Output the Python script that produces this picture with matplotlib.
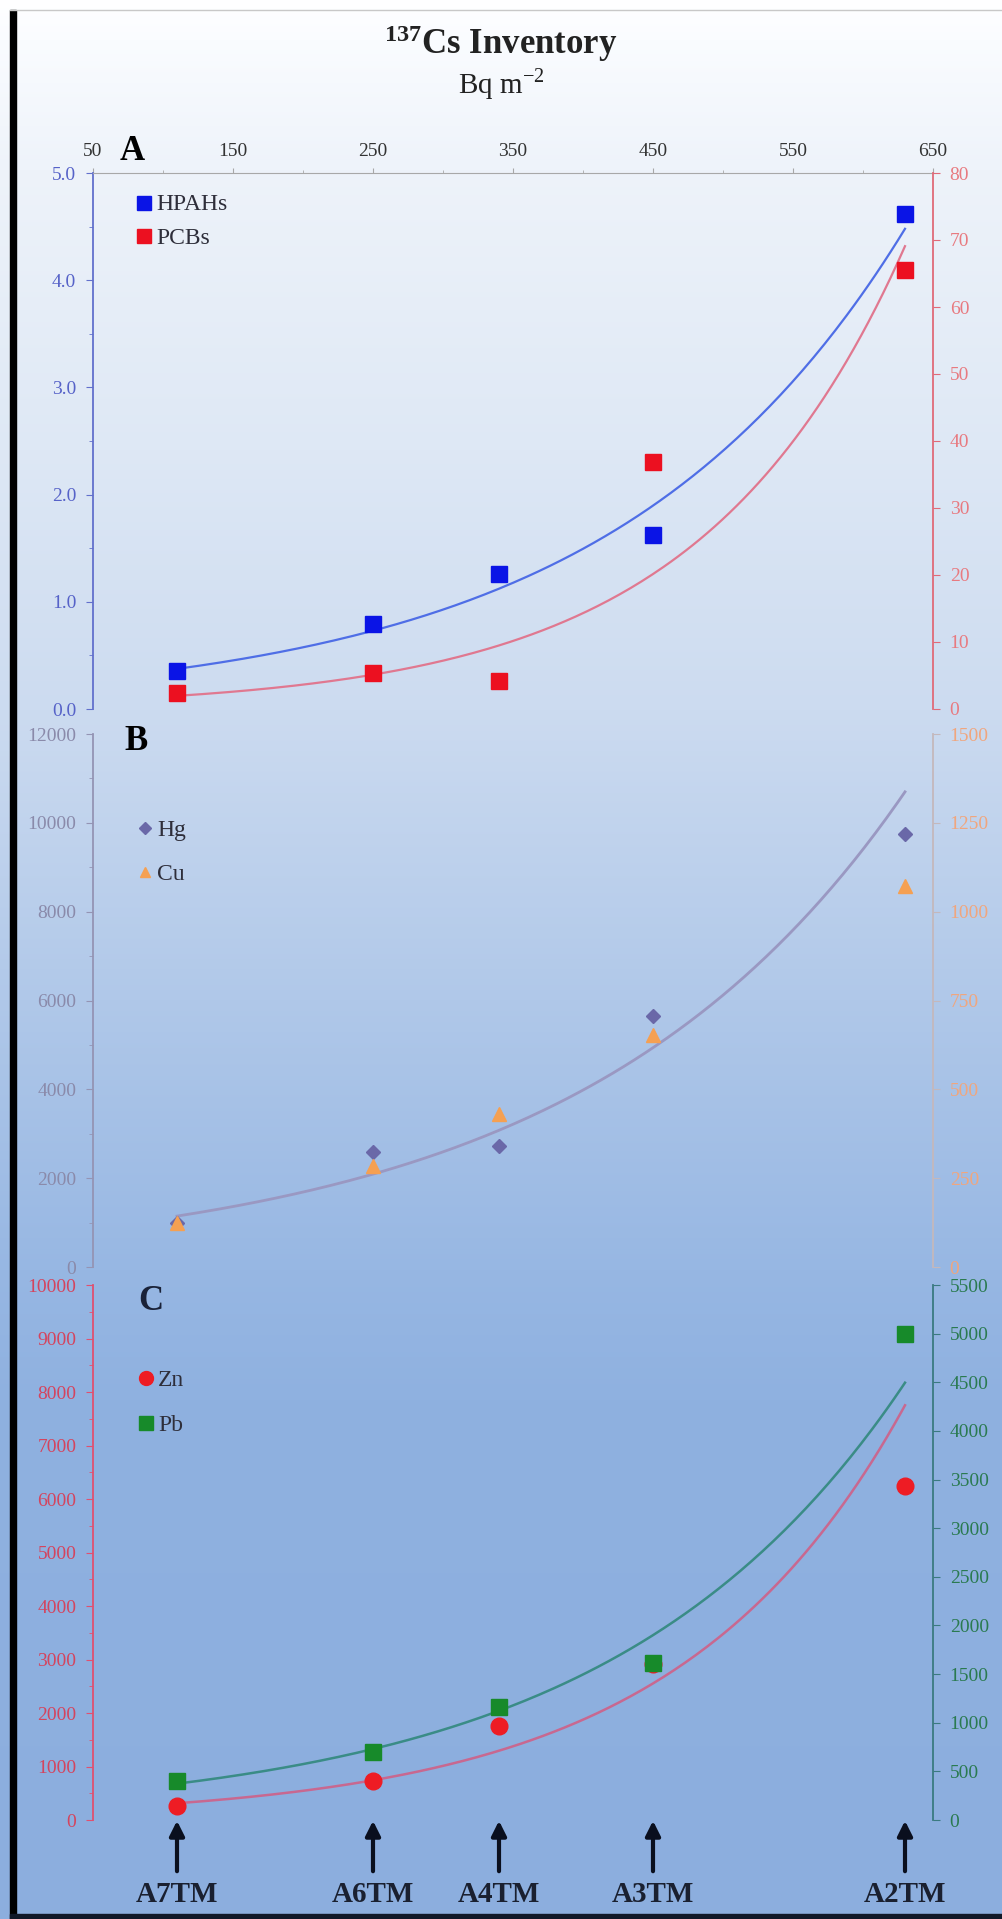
import numpy as np
import matplotlib.pyplot as plt
from matplotlib.lines import Line2D
from matplotlib.patches import Rectangle

# 137Cs inventory (Bq m-2) of each core
cores = ['A7TM', 'A6TM', 'A4TM', 'A3TM', 'A2TM']
cs137 = [110, 250, 340, 450, 630]

# panel A
hpahs = [0.35, 0.79, 1.26, 1.62, 4.62]
pcbs = [2.4, 5.4, 4.25, 36.8, 65.5]

# panel B
hg = [1000, 2590, 2730, 5650, 9750]
cu = [124, 284, 430, 652, 1073]

# panel C
zn = [256, 729, 1751, 2925, 6237]
pb = [401, 700, 1158, 1609, 5000]

W, H = 1002, 1919
plt.rcParams['font.family'] = 'Liberation Serif'
plt.rcParams['mathtext.fontset'] = 'custom'
plt.rcParams['mathtext.rm'] = 'Liberation Serif'
plt.rcParams['mathtext.bf'] = 'Liberation Serif:bold'

fig = plt.figure(figsize=(W / 100, H / 100), dpi=100)


# axes box from pixel edges (origin top left)
def px_box(left, top, right, bottom):
  return [left / W, 1 - bottom / H, (right - left) / W, (bottom - top) / H]


# exponential trend line, same as excel (least squares on log y)
def exp_fit(x, y):
  b, ln_a = np.polyfit(x, np.log(y), 1)
  xs = np.linspace(min(x), max(x), 200)
  return xs, np.exp(ln_a + b * xs)


# background gradient
bg = fig.add_axes([0, 0, 1, 1], zorder=-10)
stops_y = [0, 40, 170, 450, 710, 1000, 1270, 1400, 1919]
stops_c = [(255, 255, 255), (250, 252, 255), (238, 243, 250), (222, 232, 245),
           (204, 219, 240), (176, 200, 233), (151, 183, 227), (143, 177, 224),
           (140, 174, 222)]
rows = np.arange(H)
grad = np.zeros((H, 1, 3))
for i in range(3):
  grad[:, 0, i] = np.interp(rows, stops_y, [c[i] for c in stops_c]) / 255
bg.imshow(grad, aspect='auto', extent=[0, 1, 0, 1])
bg.axis('off')
# frame: black bar left and bottom, faint line on top
bg.add_patch(Rectangle((10 / W, 0), 6 / W, 1 - 10 / H, color='black'))
bg.add_patch(Rectangle((10 / W, 0), 1, 5 / H, color='#101828'))
bg.plot([10 / W, 1], [1 - 10 / H, 1 - 10 / H], color='#c8c8c8', lw=1)
bg.set_xlim(0, 1)
bg.set_ylim(0, 1)


def style_axis(ax, side, color, label_color, major, minor=None, fmt=None):
  ax.spines[side].set_color(color)
  ax.spines[side].set_linewidth(1.3)
  ax.tick_params(axis='y', which='both', direction='out', colors=color,
                 labelcolor=label_color, labelsize=14, pad=7)
  ax.tick_params(axis='y', which='major', length=5)
  ax.tick_params(axis='y', which='minor', length=3)
  ax.set_yticks(major)
  if minor is not None:
    ax.set_yticks(minor, minor=True)
  if fmt:
    ax.set_yticklabels([fmt.format(v) for v in major])


def make_panel(top, bottom, left_lim, right_lim):
  ax = fig.add_axes(px_box(93, top, 933, bottom))
  ax.patch.set_visible(False)
  tw = ax.twinx()
  ax.set_xlim(50, 650)
  ax.set_ylim(*left_lim)
  tw.set_ylim(*right_lim)
  for a in (ax, tw):
    a.spines['bottom'].set_visible(False)
    a.spines['top'].set_visible(False)
  ax.spines['right'].set_visible(False)
  tw.spines['left'].set_visible(False)
  ax.set_xticks([])
  return ax, tw


def legend_entry(x, y, marker, color, ms, text):
  fig.add_artist(Line2D([x / W], [1 - y / H], marker=marker, color=color, ms=ms,
                        ls='none', transform=fig.transFigure))
  fig.text((x + 12) / W, 1 - (y + 2) / H, text, fontsize=17, color='#2e2e3a',
           va='center', ha='left')


# ---- panel A
ax_a, tw_a = make_panel(173, 709, (0, 5), (0, 80))
ax_a.spines['top'].set_visible(True)
ax_a.spines['top'].set_color('#a8a8a8')
ax_a.xaxis.tick_top()
ax_a.set_xticks(np.arange(50, 651, 100))
ax_a.set_xticks(np.arange(50, 651, 50), minor=True)
ax_a.tick_params(axis='x', which='both', direction='out', colors='#a8a8a8',
                 labelcolor='#333333', labelsize=14, pad=6)
style_axis(ax_a, 'left', '#6270cc', '#5662c8', np.arange(0, 5.1, 1),
           np.arange(0, 5.1, 0.5), '{:.1f}')
style_axis(tw_a, 'right', '#e06a78', '#e87a80', np.arange(0, 81, 10))

xs, ys = exp_fit(cs137, hpahs)
ax_a.plot(xs, ys, color='#4f6ee6', lw=1.6)
ax_a.plot(cs137, hpahs, 's', color='#0a14e6', ms=11)
xs, ys = exp_fit(cs137, pcbs)
tw_a.plot(xs, ys, color='#e07890', lw=1.6)
tw_a.plot(cs137, pcbs, 's', color='#ec1020', ms=11)

fig.text(132 / W, 1 - 152 / H, 'A', fontsize=25, fontweight='bold', ha='center', va='center')
legend_entry(144, 203, 's', '#0a14e6', 10, 'HPAHs')
legend_entry(144, 236, 's', '#ec1020', 10, 'PCBs')

# ---- panel B
ax_b, tw_b = make_panel(734, 1267, (0, 12000), (0, 1500))
style_axis(ax_b, 'left', '#9494b4', '#8a8aaa', np.arange(0, 12001, 2000),
           np.arange(0, 12001, 1000))
style_axis(tw_b, 'right', '#c4b8bc', '#f0a67e', np.arange(0, 1501, 250))

xs, ys = exp_fit(cs137, hg)
ax_b.plot(xs, ys, color='#9a98c2', lw=2)
ax_b.plot(cs137, hg, 'D', color='#6a68a8', ms=7)
tw_b.plot(cs137, cu, '^', color='#f5a052', ms=10)

fig.text(136 / W, 1 - 741 / H, 'B', fontsize=25, fontweight='bold', ha='center', va='center')
legend_entry(145, 828, 'D', '#6a68a8', 6, 'Hg')
legend_entry(145, 872, '^', '#f5a052', 7, 'Cu')

# ---- panel C
ax_c, tw_c = make_panel(1285, 1820, (0, 10000), (0, 5500))
style_axis(ax_c, 'left', '#e05070', '#d4445e', np.arange(0, 10001, 1000),
           np.arange(0, 10001, 500))
style_axis(tw_c, 'right', '#3a7a80', '#2a7a50', np.arange(0, 5501, 500))

xs, ys = exp_fit(cs137, zn)
ax_c.plot(xs, ys, color='#c86890', lw=1.8)
xs, ys = exp_fit(cs137, pb)
tw_c.plot(xs, ys, color='#3a8c86', lw=1.8)
ax_c.plot(cs137, zn, 'o', color='#ee1c24', ms=12)
tw_c.plot(cs137, pb, 's', color='#178a2a', ms=11)

fig.text(151 / W, 1 - 1302 / H, 'C', fontsize=25, fontweight='bold', ha='center',
         va='center', color='#1a2238')
legend_entry(146, 1378, 'o', '#ee1c24', 10, 'Zn')
legend_entry(146, 1423, 's', '#178a2a', 10, 'Pb')

# core arrows and names under panel C
for x, name in zip(cs137, cores):
  ax_c.annotate('', xy=(x, H - 1818), xytext=(x, H - 1874),
                xycoords=('data', 'figure pixels'), textcoords=('data', 'figure pixels'),
                arrowprops=dict(arrowstyle='-|>', color='#0a0f1e', lw=3, mutation_scale=22),
                annotation_clip=False)
  ax_c.annotate(name, xy=(x, H - 1894), xycoords=('data', 'figure pixels'),
                ha='center', va='center', fontsize=21, fontweight='bold',
                color='#1a2030', annotation_clip=False)

# title
fig.text(0.5, 1 - 44 / H, r'$\mathbf{^{137}}$Cs Inventory', fontsize=25, fontweight='bold',
         ha='center', va='center', color='#222222')
fig.text(0.5, 1 - 84 / H, r'Bq m$^{\mathrm{-2}}$', fontsize=21, ha='center', va='center',
         color='#222222')

plt.savefig('out.png', dpi=100)
